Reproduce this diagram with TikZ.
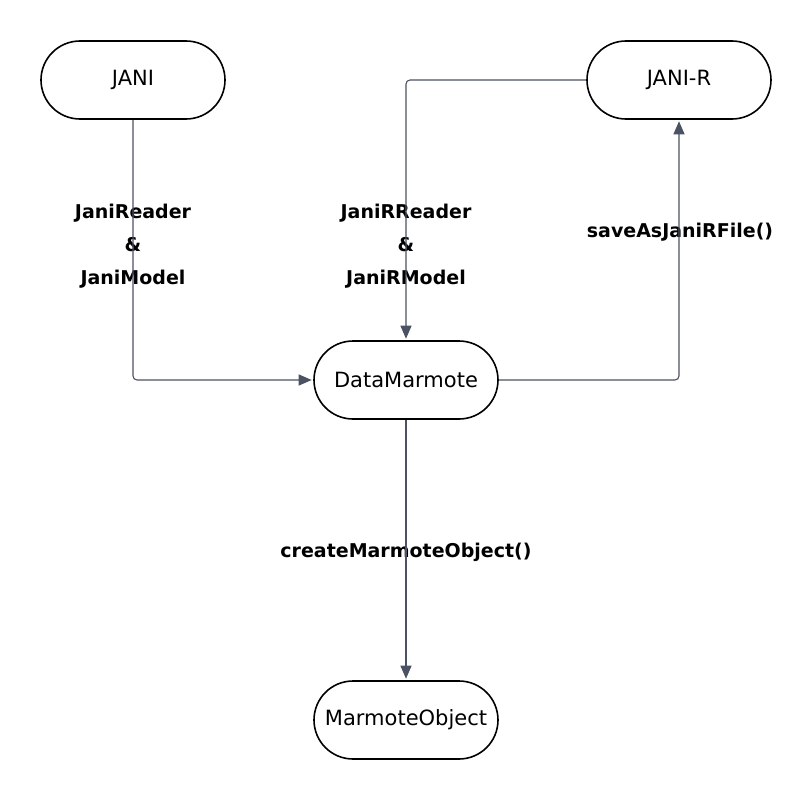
\documentclass[tikz,border=0pt]{standalone}
\usepackage{fontspec}
\setmainfont{DejaVu Sans}
\usepackage{tikz}
\usetikzlibrary{arrows.meta}
\definecolor{linkgray}{HTML}{4B5263}

\begin{document}
\begin{tikzpicture}[x=1pt, y=-1pt,
  term/.style={draw, line width=1.6pt, rounded corners=39pt, minimum width=184pt,
    minimum height=78pt, font=\fontsize{21}{25}\selectfont},
  link/.style={draw=linkgray, line width=1.1pt, rounded corners=4pt,
    -{Triangle[length=13pt,width=11pt]}, shorten >=1.5pt},
  lbl/.style={align=center, font=\fontsize{19}{33}\selectfont\bfseries}]
\useasboundingbox (0,0) rectangle (812,800);
\node[term] (jani) at (133,80) {JANI};
\node[term] (janir) at (679,80) {JANI-R};
\node[term] (data) at (406,380) {DataMarmote};
\node[term] (obj) at (406,720) {MarmoteObject};
% labels
\node[lbl] (readlbl) at (133,246) {JaniReader\\\&\\JaniModel};
\node[lbl] (rreadlbl) at (406,246) {JaniRReader\\\&\\JaniRModel};
\node[lbl] (savelbl) at (680,232) {saveAsJaniRFile()};
\node[lbl] (createlbl) at (406,552) {createMarmoteObject()};
% connectors
\draw[link] (jani.south) |- (data.west);
\draw[link] (janir.west) -| (data.north);
\draw[link] (data.east) -| (janir.south);
\draw[link] (data.south) -- (obj.north);
\end{tikzpicture}
\end{document}
